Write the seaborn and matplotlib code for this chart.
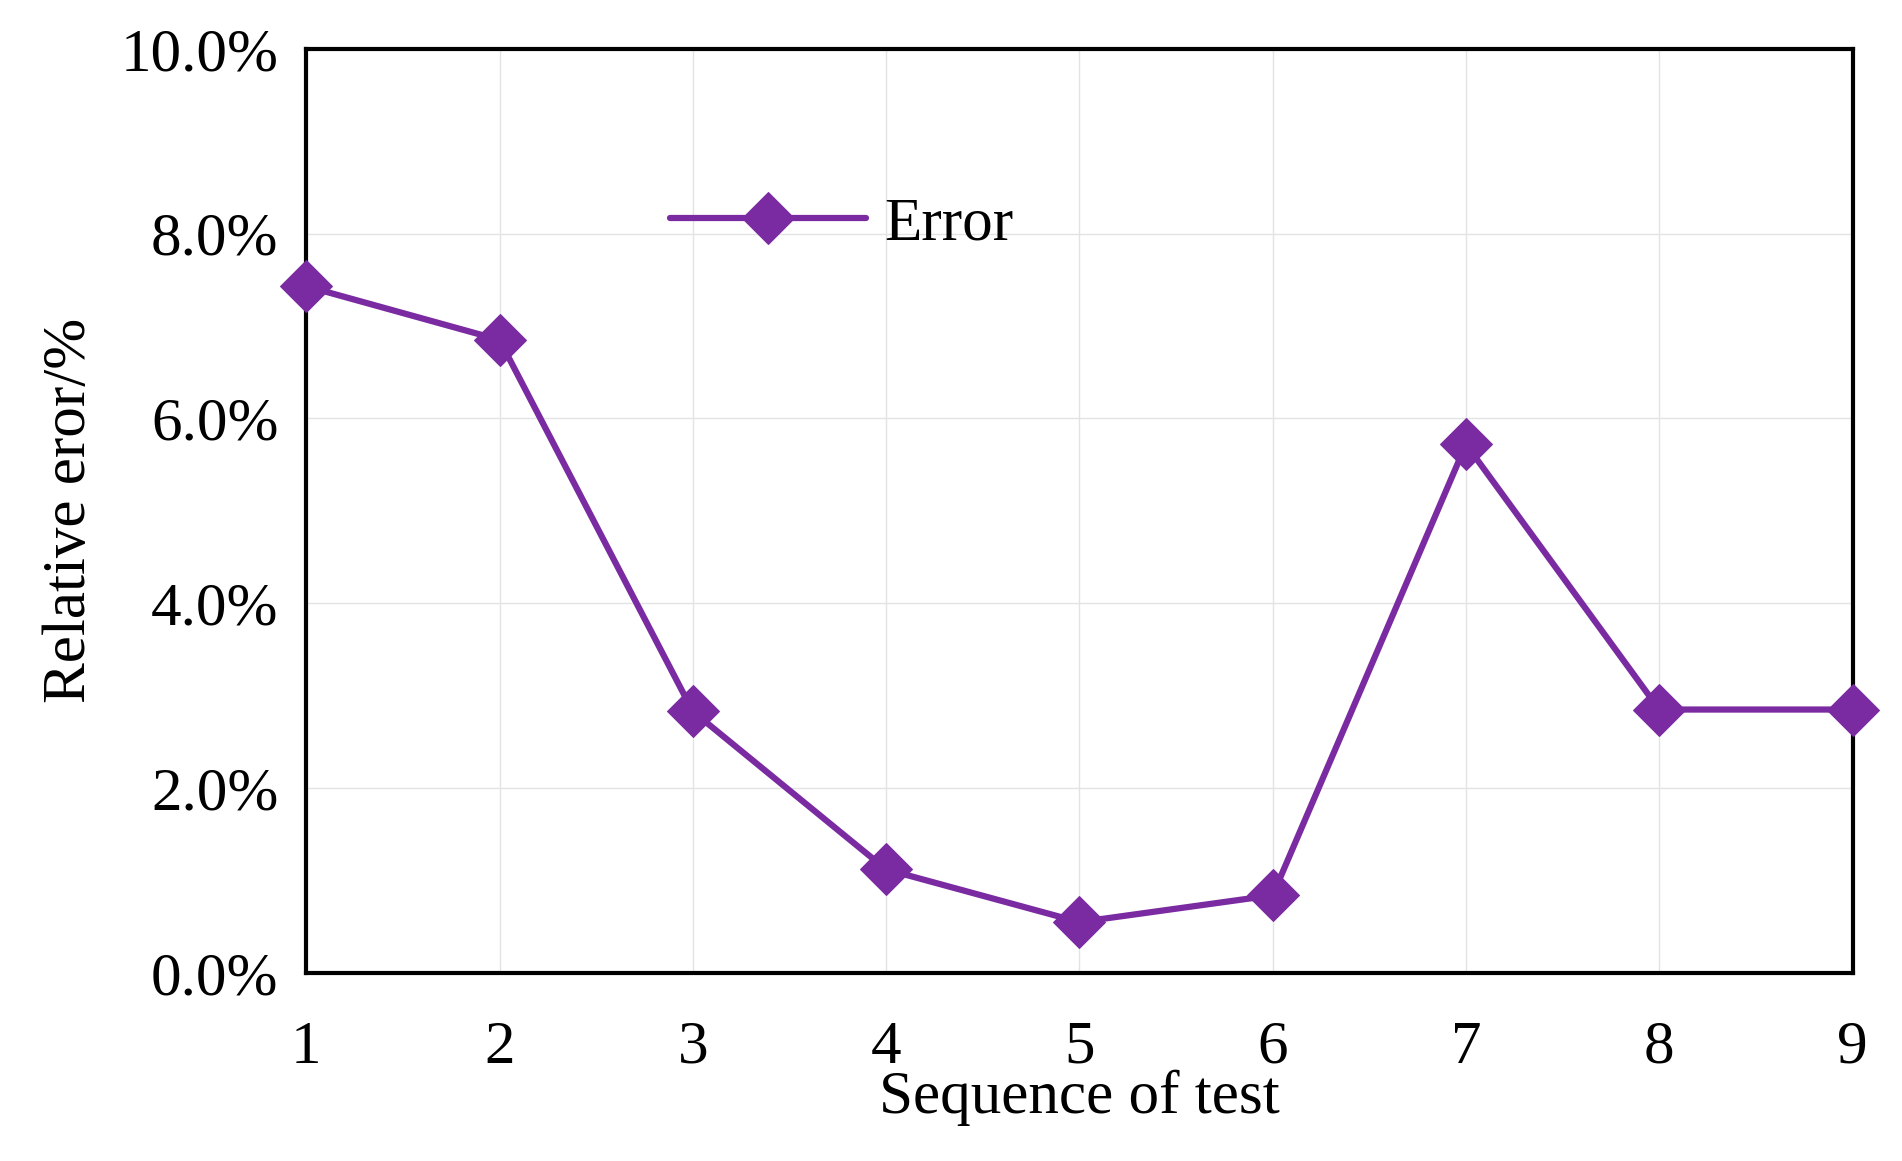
import matplotlib
matplotlib.use("Agg")
import matplotlib.pyplot as plt
import seaborn as sns
import pandas as pd
from matplotlib.ticker import FuncFormatter

# Data
tests = [1, 2, 3, 4, 5, 6, 7, 8, 9]
errors = [7.43, 6.85, 2.83, 1.12, 0.55, 0.84, 5.72, 2.85, 2.85]

df = pd.DataFrame({'test': tests, 'error': errors})

sns.set_style('white')
plt.rcParams['font.family'] = ['Liberation Serif', 'DejaVu Serif']
plt.rcParams['text.color'] = 'black'
plt.rcParams['axes.labelcolor'] = 'black'
plt.rcParams['xtick.color'] = 'black'
plt.rcParams['ytick.color'] = 'black'

fig = plt.figure(figsize=(19.02, 11.61), dpi=100)
ax = fig.add_axes([0.161, 0.162, 0.813, 0.796])

sns.lineplot(data=df, x='test', y='error', ax=ax, color='#7B2BA1',
             marker='D', markersize=26, linewidth=4.5, label='Error',
             markeredgecolor='#7B2BA1', clip_on=False, zorder=5)

ax.set_xlim(1, 9)
ax.set_ylim(0, 10)
ax.set_xticks(tests)
ax.set_yticks([0, 2, 4, 6, 8, 10])
ax.yaxis.set_major_formatter(FuncFormatter(lambda v, p: f'{v:.1f}%'))
ax.grid(True, color='#e3e3e3', linewidth=1)
for s in ax.spines.values():
    s.set_color('black')
    s.set_linewidth(3)
ax.tick_params(axis='both', labelsize=44, width=3)
ax.tick_params(axis='x', direction='out', length=10, pad=24)
ax.tick_params(axis='y', length=0, pad=20)

ax.set_xlabel('Sequence of test', fontsize=44, labelpad=-4)
ax.set_ylabel('Relative eror/%', fontsize=44, labelpad=16)

ax.legend(loc='center left', bbox_to_anchor=(0.2, 0.81), frameon=False,
          fontsize=44, handlelength=3.2, handletextpad=0.3)

fig.savefig('out.png', dpi=100)
